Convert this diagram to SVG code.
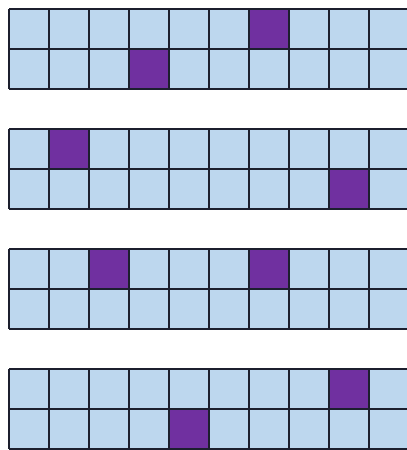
<svg xmlns="http://www.w3.org/2000/svg" width="407" height="450" viewBox="0 0 407 450">
<style>
.bg{fill:#bdd7ee}
.on{fill:#7030a0}
.ln{fill:none;stroke:#1c1f2e;stroke-width:2}
</style>
<defs>
<path id="lines" class="ln" d="M9,0H409M9,40H409M9,80H409M9,0V80M49,0V80M89,0V80M129,0V80M169,0V80M209,0V80M249,0V80M289,0V80M329,0V80M369,0V80M409,0V80"/>
</defs>
<rect width="407" height="450" fill="#ffffff"/>
<g id="grid1" transform="translate(0,9)">
<rect class="bg" x="9" y="0" width="400" height="80"/>
<rect class="on" x="249" y="0" width="40" height="40"/>
<rect class="on" x="129" y="40" width="40" height="40"/>
<use href="#lines"/>
</g>
<g id="grid2" transform="translate(0,129)">
<rect class="bg" x="9" y="0" width="400" height="80"/>
<rect class="on" x="49" y="0" width="40" height="40"/>
<rect class="on" x="329" y="40" width="40" height="40"/>
<use href="#lines"/>
</g>
<g id="grid3" transform="translate(0,249)">
<rect class="bg" x="9" y="0" width="400" height="80"/>
<rect class="on" x="89" y="0" width="40" height="40"/>
<rect class="on" x="249" y="0" width="40" height="40"/>
<use href="#lines"/>
</g>
<g id="grid4" transform="translate(0,369)">
<rect class="bg" x="9" y="0" width="400" height="80"/>
<rect class="on" x="329" y="0" width="40" height="40"/>
<rect class="on" x="169" y="40" width="40" height="40"/>
<use href="#lines"/>
</g>
<g id="connectors"/>
</svg>
